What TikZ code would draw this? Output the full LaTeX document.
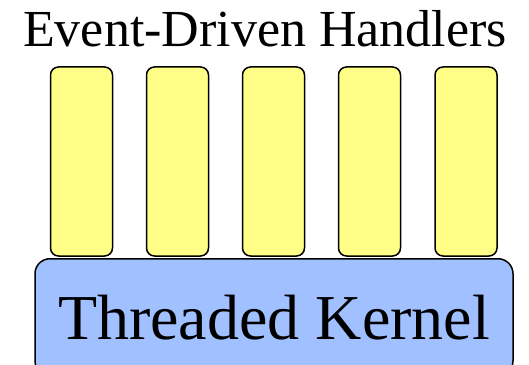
\documentclass[tikz,border=0pt]{standalone}
\usepackage{fontspec}
\setmainfont{Liberation Serif}
\usetikzlibrary{positioning}

\definecolor{handleryellow}{RGB}{255,255,136}
\definecolor{kernelblue}{RGB}{161,192,255}

\tikzset{
    handler/.style={draw, line width=1.5pt, fill=handleryellow, rounded corners=8pt,
        minimum width=62pt, minimum height=189pt, inner sep=0pt},
    kernel/.style={draw, line width=1.5pt, fill=kernelblue, rounded corners=15pt,
        minimum width=478pt, minimum height=117pt, inner sep=0pt,
        font=\fontsize{64}{64}\selectfont}
}

\begin{document}
\begin{tikzpicture}[x=1pt,y=1pt]
        \useasboundingbox (0,0) rectangle (529,364);
        \clip (0,0) rectangle (529,364);

        % Title
        \node[anchor=base, font=\fontsize{52}{52}\selectfont] (title) at (265,317) {Event-Driven Handlers};

        % Handlers
        \foreach \i/\x in {1/81.5,2/177.5,3/273.5,4/369.5,5/466}
            \node[handler] (h\i) at (\x,202.5) {};

        % Kernel
        \node[kernel, anchor=north] (kernel) at (274,106) {Threaded Kernel};
    \end{tikzpicture}
\end{document}
